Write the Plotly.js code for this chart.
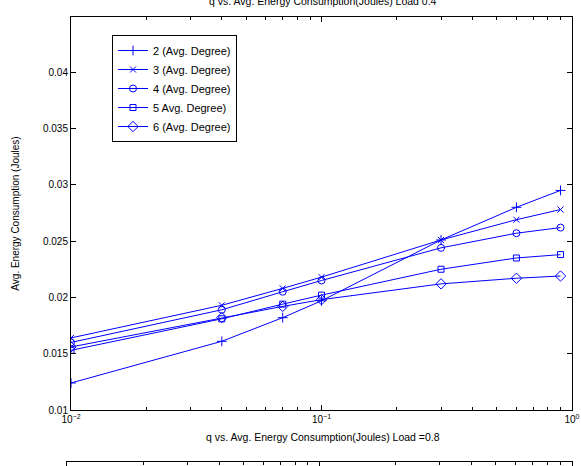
<!DOCTYPE html>
<html>
<head>
<meta charset="utf-8">
<script src="https://cdn.plot.ly/plotly-3.0.1.min.js"></script>
<style>
html,body{margin:0;padding:0;background:#fff;overflow:hidden;}
#wrap{width:581px;height:466px;overflow:hidden;position:relative;}
#chart{width:581px;height:900px;}
</style>
</head>
<body>
<div id="wrap"><div id="chart"></div></div>
<script>
const q = [0.01, 0.04, 0.07, 0.1, 0.3, 0.6, 0.9];
const deg2 = [0.0124, 0.0161, 0.0182, 0.0197, 0.0251, 0.0280, 0.0295];
const deg3 = [0.0164, 0.0193, 0.0208, 0.0218, 0.0251, 0.0269, 0.0278];
const deg4 = [0.0160, 0.0189, 0.0205, 0.0215, 0.0244, 0.0257, 0.0262];
const deg5 = [0.0153, 0.0181, 0.0194, 0.0202, 0.0225, 0.0235, 0.0238];
const deg6 = [0.0156, 0.0182, 0.0192, 0.0198, 0.0212, 0.0217, 0.0219];
const seriesNames = ['2 (Avg. Degree)', '3 (Avg. Degree)', '4 (Avg. Degree)', '5 Avg. Degree)', '6 (Avg. Degree)'];
const xTickVals = [0.01, 0.1, 1];
const xTickText = ['10<sup>\u22122</sup>', '10<sup>\u22121</sup>', '10<sup>0</sup>'];
const yTickVals = [0.01, 0.015, 0.02, 0.025, 0.03, 0.035, 0.04];
const yTickText = ['0.01', '0.015', '0.02', '0.025', '0.03', '0.035', '0.04'];
const title1 = 'q vs. Avg. Energy Consumption(Joules) Load 0.4';
const title2 = 'q vs. Avg. Energy Consumption(Joules) Load =0.8';
const yTitle = 'Avg. Energy Consumption (Joules)';

const W = 581, H = 900;
const blue = '#0000ff';
const font = 'Liberation Sans, Arial, sans-serif';
const symbols = ['cross-thin-open', 'x-thin-open', 'circle-open', 'square-open', 'diamond-open'];
const sizes = [7, 6, 7, 6, 8];
const data = [deg2, deg3, deg4, deg5, deg6];

const traces = data.map((ys, i) => ({
  x: q, y: ys, name: seriesNames[i], type: 'scatter', mode: 'lines+markers',
  xaxis: 'x', yaxis: 'y',
  line: {color: blue, width: 1},
  marker: {symbol: symbols[i], size: sizes[i], color: blue, line: {color: blue, width: 1}}
}));
// second (Load = 0.8) panel: only its top edge is visible in the picture
traces.push({x: [], y: [], type: 'scatter', mode: 'lines', xaxis: 'x2', yaxis: 'y2', showlegend: false, hoverinfo: 'skip'});

const px = v => v / W;
const py = v => 1 - v / H;

const axisCommon = {
  showline: true, linecolor: '#000', linewidth: 1, mirror: 'allticks',
  ticks: 'inside', ticklen: 5, tickcolor: '#000', tickwidth: 1,
  showgrid: false, zeroline: false, automargin: false,
  tickfont: {family: font, size: 10, color: '#000'}
};
const minorX = {ticks: 'inside', ticklen: 3, tickcolor: '#000', dtick: 'D1', showgrid: false};

const layout = {
  width: W, height: H,
  margin: {l: 0, r: 0, t: 0, b: 0},
  paper_bgcolor: '#fff', plot_bgcolor: '#fff',
  font: {family: font, color: '#000'},
  showlegend: true,
  legend: {
    x: px(112), y: py(35), xanchor: 'left', yanchor: 'top',
    bgcolor: '#fff', bordercolor: '#000', borderwidth: 1,
    font: {family: font, size: 11, color: '#000'},
    itemwidth: 30
  },
  xaxis: Object.assign({}, axisCommon, {
    type: 'log', domain: [px(71), px(572)], anchor: 'y',
    range: [-2, 0], tickvals: xTickVals, ticktext: xTickText, minor: minorX
  }),
  yaxis: Object.assign({}, axisCommon, {
    domain: [py(410), py(17)], anchor: 'x',
    range: [0.01, 0.0449], tickvals: yTickVals, ticktext: yTickText,
    title: {text: yTitle, font: {family: font, size: 10, color: '#000'}, standoff: 21}
  }),
  xaxis2: Object.assign({}, axisCommon, {
    type: 'log', domain: [px(67), px(572)], anchor: 'y2',
    range: [-2, 0], tickvals: xTickVals, showticklabels: false, minor: minorX
  }),
  yaxis2: Object.assign({}, axisCommon, {
    domain: [py(850), py(462)], anchor: 'x2',
    range: [0.01, 0.044], tickvals: yTickVals, showticklabels: false
  }),
  annotations: [
    {text: title1, xref: 'paper', yref: 'paper', x: px(323), y: py(1), xanchor: 'center', yanchor: 'middle',
     showarrow: false, font: {family: font, size: 10.5, color: '#000'}},
    {text: title2, xref: 'paper', yref: 'paper', x: px(323), y: py(437), xanchor: 'center', yanchor: 'middle',
     showarrow: false, font: {family: font, size: 10.5, color: '#000'}}
  ]
};

Plotly.newPlot('chart', traces, layout, {displayModeBar: false, staticPlot: true});
</script>
</body>
</html>
